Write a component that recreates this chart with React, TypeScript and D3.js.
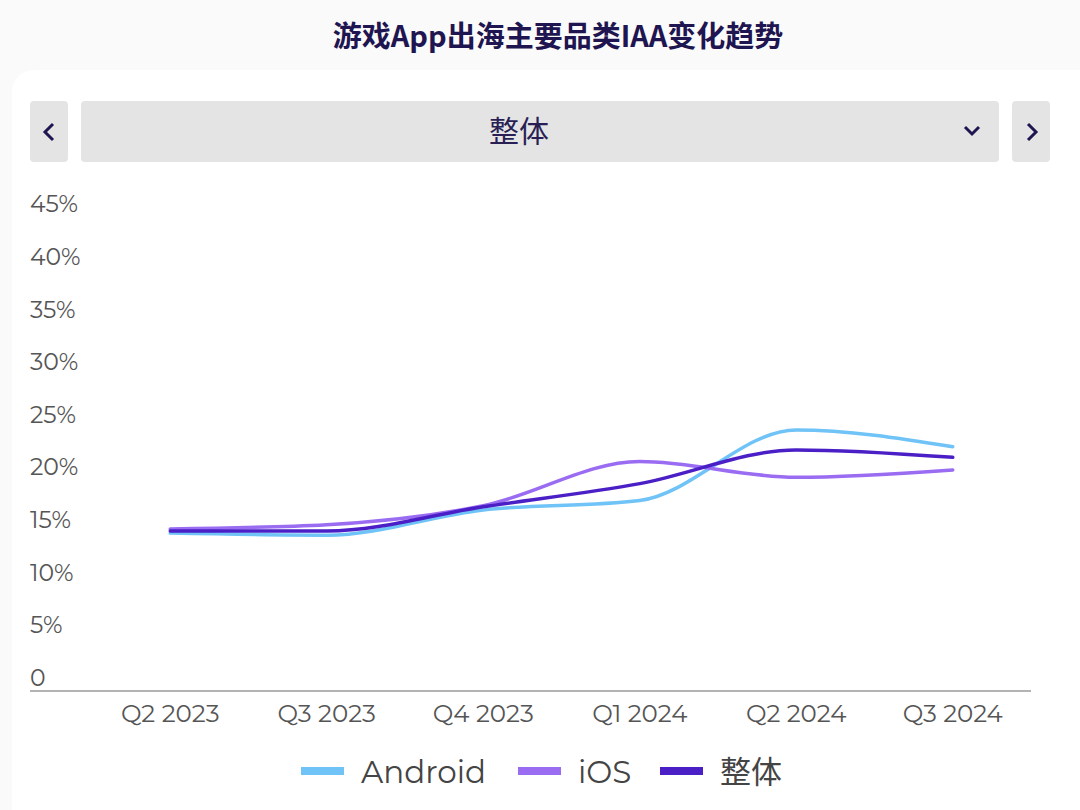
import React from "react";
import * as d3 from "d3";

const categories = ["Q2 2023", "Q3 2023", "Q4 2023", "Q1 2024", "Q2 2024", "Q3 2024"];
const androidValues = [15.0, 14.8, 17.2, 18.1, 24.8, 23.2];
const iosValues = [15.4, 15.8, 17.6, 21.8, 20.3, 21.0];
const totalValues = [15.2, 15.2, 17.5, 19.7, 22.9, 22.2];
const yTicks = [0, 5, 10, 15, 20, 25, 30, 35, 40, 45];
const seriesNames = ["Android", "iOS", "整体"];
const seriesColors = ["#6fc3f7", "#9a6cf2", "#4b1fc6"];

const W = 1080;
const H = 810;
const FONT = "Montserrat, 'Open Sans', 'Noto Sans CJK SC', sans-serif";

export default function App() {
  const x = d3.scaleBand<string>().domain(categories).range([92, 1031]);
  const y = d3.scaleLinear().domain([0, 45]).range([691, 217.3]);
  const line = d3
    .line<number>()
    .x((_, i) => (x(categories[i]) as number) + x.bandwidth() / 2)
    .y((d) => y(d))
    .curve(d3.curveMonotoneX);
  const series = [androidValues, iosValues, totalValues];
  const legendX = [301, 518, 660];

  return (
    <svg
      width={W}
      height={H}
      style={{ position: "absolute", left: 0, top: 0, background: "#fafafa" }}
      fontFamily={FONT}
    >
      <rect x={12} y={70} width={1100} height={780} rx={22} fill="#ffffff" />
      <text
        x={558}
        y={47}
        textAnchor="middle"
        fontSize={29}
        fontWeight={700}
        fill="#1f1550"
        fontFamily="'Noto Sans CJK SC', sans-serif"
      >
        游戏App出海主要品类IAA变化趋势
      </text>

      {/* controls */}
      <rect x={30} y={101} width={38} height={61} rx={4} fill="#e4e4e4" />
      <rect x={81} y={101} width={918} height={61} rx={4} fill="#e4e4e4" />
      <rect x={1012} y={101} width={38} height={61} rx={4} fill="#e4e4e4" />
      <path d="M53,124 L45,132 L53,140" fill="none" stroke="#1f1550" strokeWidth={3} />
      <path d="M1028,124 L1036,132 L1028,140" fill="none" stroke="#1f1550" strokeWidth={3} />
      <path d="M965,127 L972,134 L979,127" fill="none" stroke="#1f1550" strokeWidth={3} />
      <text
        x={519}
        y={142}
        textAnchor="middle"
        fontSize={30}
        fill="#2a1f55"
        fontFamily="'Noto Sans CJK SC', sans-serif"
      >
        整体
      </text>

      {/* y tick labels */}
      {yTicks.map((t) => (
        <text key={t} x={30} y={y(t) - 5} fontSize={23.5} fill="#555555">
          {t === 0 ? "0" : `${t}%`}
        </text>
      ))}

      {/* axis line */}
      <line x1={30} x2={1031} y1={691} y2={691} stroke="#9a9a9a" strokeWidth={1.5} />

      {/* x tick labels */}
      {categories.map((c) => (
        <text
          key={c}
          x={(x(c) as number) + x.bandwidth() / 2}
          y={722}
          textAnchor="middle"
          fontSize={24.5}
          fill="#555555"
        >
          {c}
        </text>
      ))}

      {/* lines */}
      {series.map((s, i) => (
        <path
          key={seriesNames[i]}
          d={line(s) || ""}
          fill="none"
          stroke={seriesColors[i]}
          strokeWidth={3.5}
          strokeLinecap="round"
        />
      ))}

      {/* legend */}
      {seriesNames.map((n, i) => (
        <g key={n}>
          <rect x={legendX[i]} y={767} width={43} height={8} fill={seriesColors[i]} />
          <text
            x={legendX[i] + 60}
            y={783}
            fontSize={31}
            fill="#444444"
            fontFamily={i === 2 ? "'Noto Sans CJK SC', sans-serif" : FONT}
          >
            {n}
          </text>
        </g>
      ))}
    </svg>
  );
}
